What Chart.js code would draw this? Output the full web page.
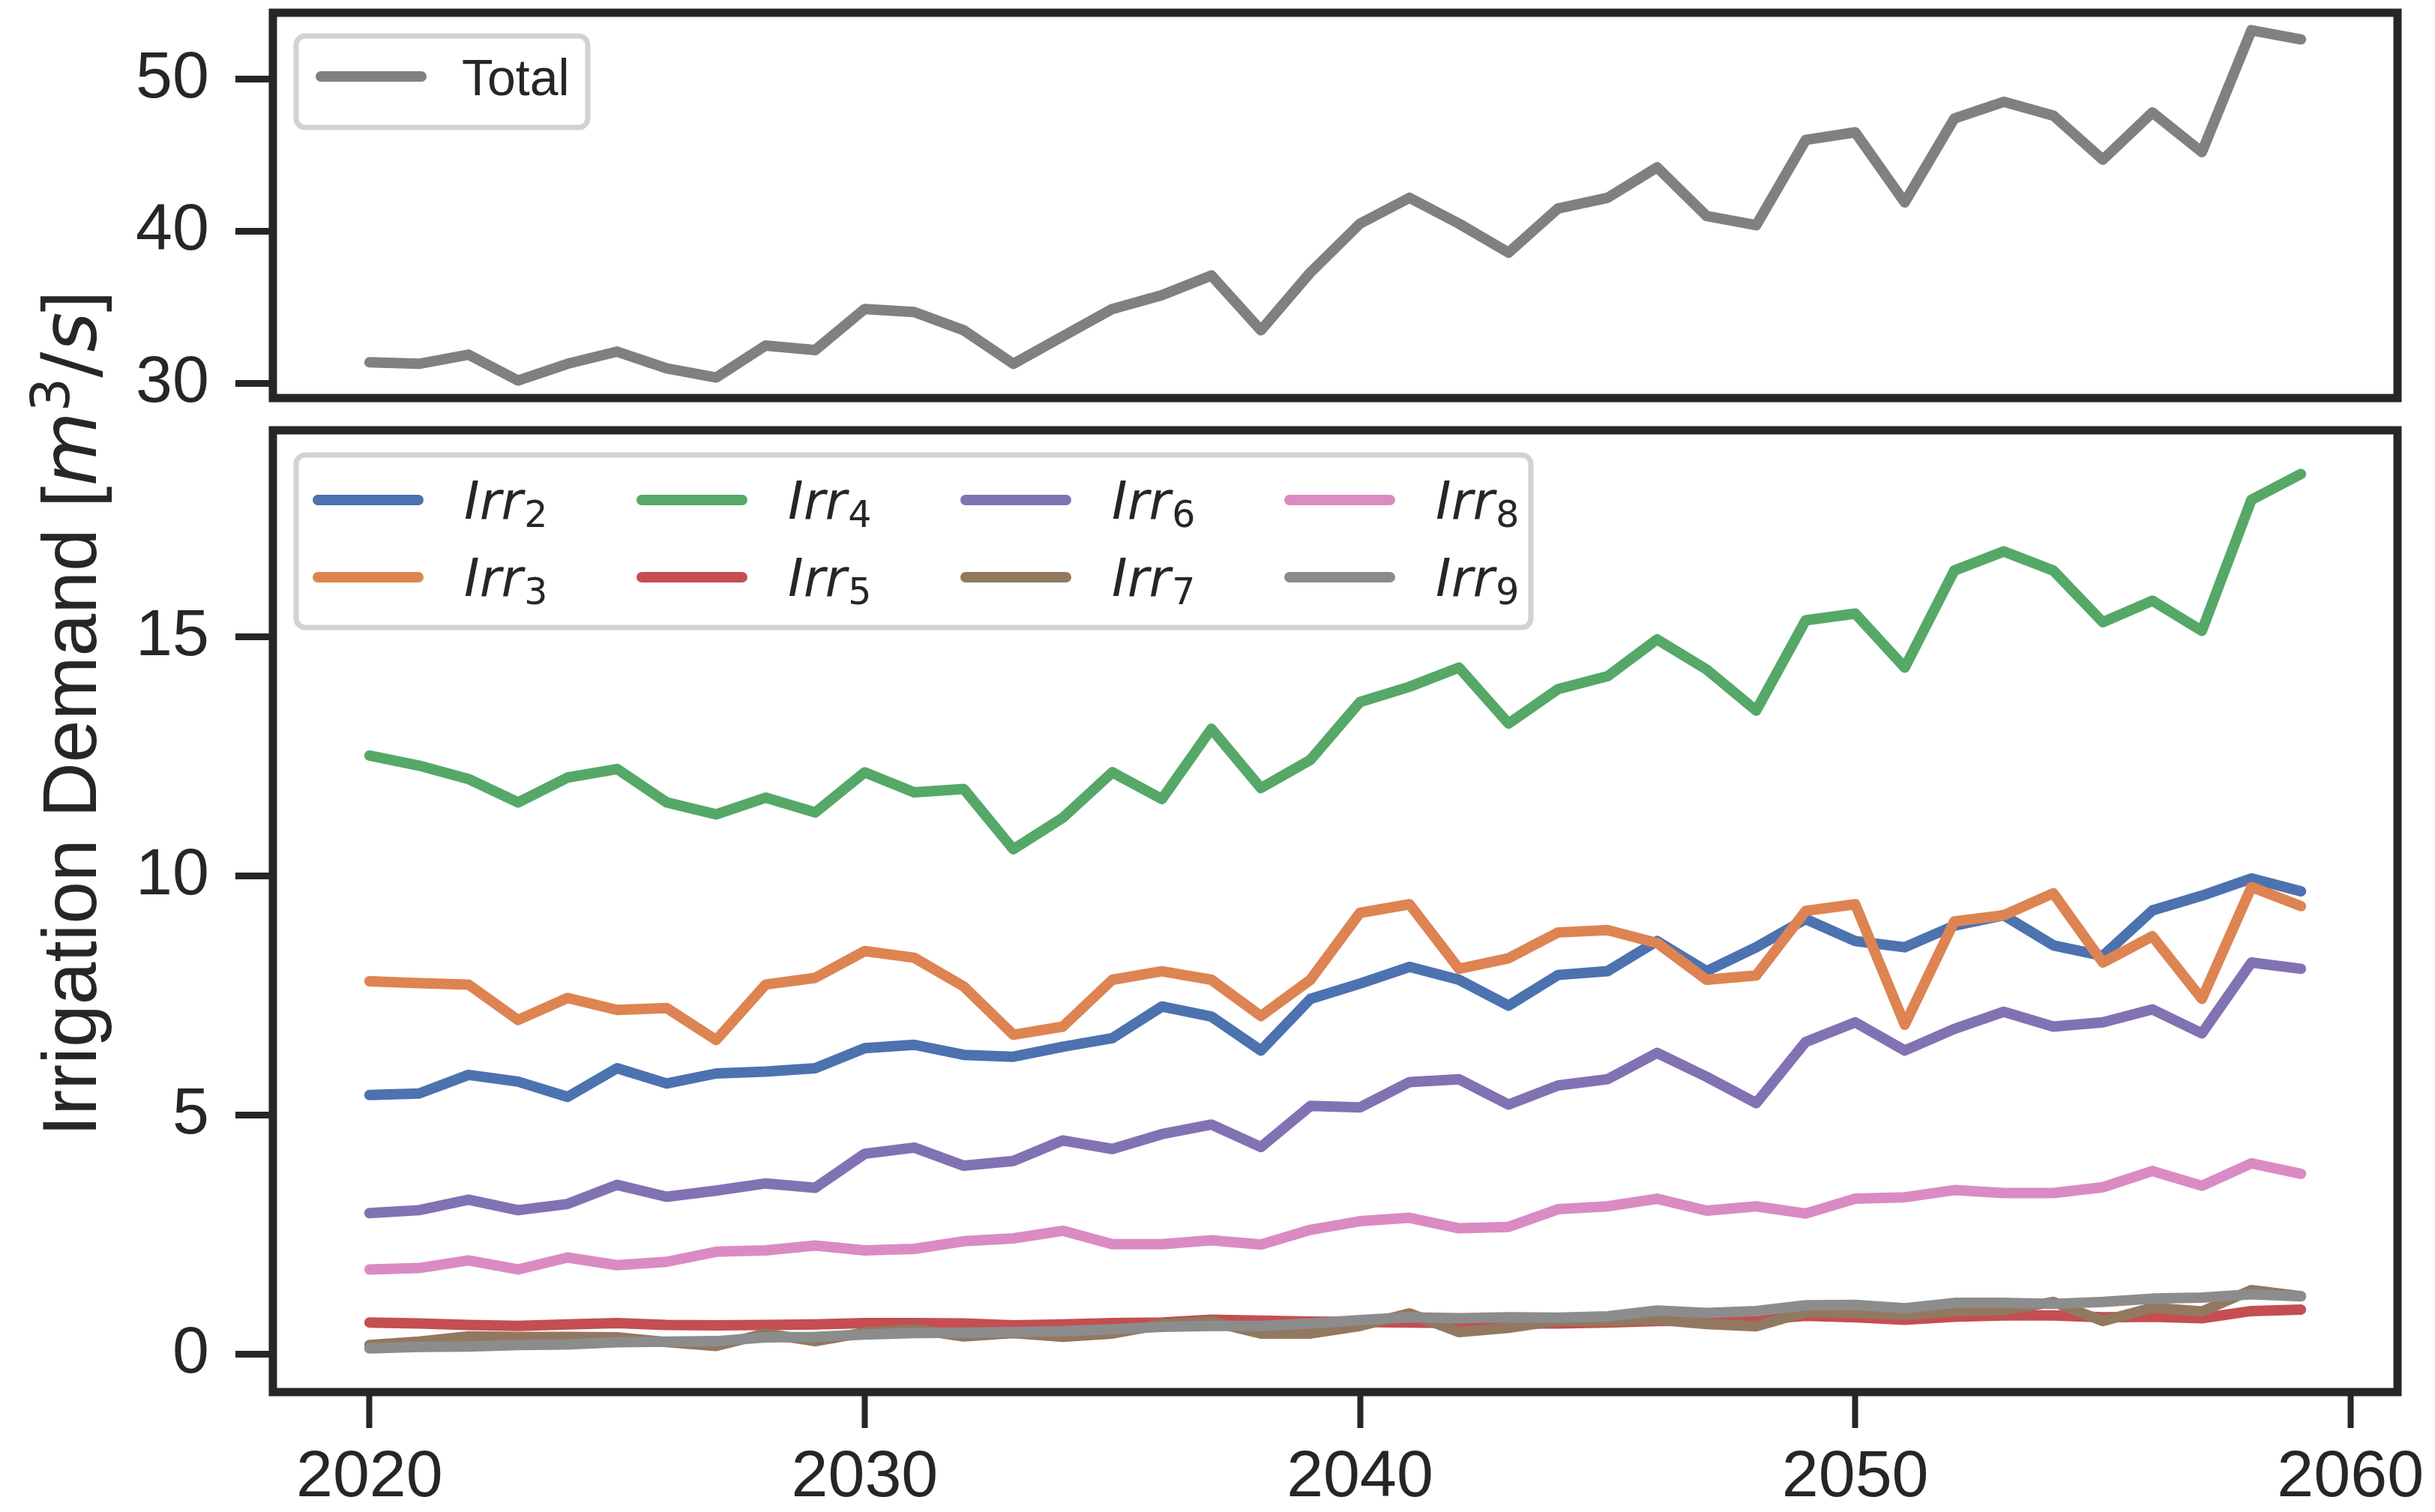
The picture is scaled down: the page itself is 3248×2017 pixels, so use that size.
<!DOCTYPE html>
<html lang="en">
<head>
<meta charset="UTF-8">
<title>Irrigation Demand</title>
<script src="https://cdn.jsdelivr.net/npm/chart.js@4.4.1/dist/chart.umd.min.js"></script>
<style>
  body { margin: 0; background: #fff; }
  #wrap { position: relative; width: 3248px; height: 2017px; }
  #wrap canvas { position: absolute; left: 0; }
  #top { top: 0; }
  #bottom { top: 560px; }
  #ylabel {
    position: absolute; left: 93px; top: 952px;
    transform: translate(-50%, -50%) rotate(-90deg);
    font: 102px "Liberation Sans", Arial, sans-serif;
    color: #262626; white-space: nowrap; line-height: 1;
  }
  #ylabel .mt { font-family: "DejaVu Sans", sans-serif; }
  #ylabel sup { font-size: 0.7em; vertical-align: 0.5em; line-height: 0; }
</style>
</head>
<body>
<div id="wrap">
  <canvas id="top" width="3248" height="560"></canvas>
  <canvas id="bottom" width="3248" height="1457"></canvas>
  <div id="ylabel">Irrigation Demand [<span class="mt"><i>m</i><sup>3</sup>/<i>s</i></span>]</div>
</div>
<script>
// yearly irrigation demand, m3/s
const years = Array.from({ length: 40 }, (_, i) => 2020 + i);

const total = [31.4, 31.3, 31.9, 30.2, 31.3, 32.1, 31.0, 30.4, 32.5, 32.2,
               34.9, 34.7, 33.5, 31.3, 33.1, 34.9, 35.8, 37.1, 33.5, 37.3,
               40.5, 42.2, 40.5, 38.6, 41.5, 42.2, 44.2, 41.0, 40.4, 46.0,
               46.5, 41.9, 47.4, 48.5, 47.6, 44.7, 47.8, 45.2, 53.2, 52.6];

const irr2 = [5.42, 5.45, 5.84, 5.70, 5.38, 5.98, 5.66, 5.87, 5.91, 5.98,
              6.40, 6.47, 6.26, 6.22, 6.43, 6.61, 7.27, 7.06, 6.35, 7.43,
              7.75, 8.10, 7.83, 7.29, 7.93, 8.01, 8.64, 8.01, 8.51, 9.10,
              8.64, 8.51, 8.96, 9.18, 8.55, 8.33, 9.28, 9.59, 9.95, 9.68];
const irr3 = [7.80, 7.76, 7.73, 6.99, 7.45, 7.20, 7.24, 6.57, 7.73, 7.87,
              8.43, 8.29, 7.69, 6.68, 6.85, 7.83, 8.01, 7.83, 7.07, 7.83,
              9.23, 9.41, 8.06, 8.28, 8.82, 8.87, 8.60, 7.83, 7.92, 9.27,
              9.41, 6.89, 9.05, 9.18, 9.64, 8.19, 8.74, 7.43, 9.77, 9.37];
const irr4 = [12.52, 12.31, 12.03, 11.54, 12.06, 12.24, 11.54, 11.29, 11.64, 11.33,
              12.17, 11.75, 11.82, 10.56, 11.22, 12.17, 11.61, 13.08, 11.84, 12.43,
              13.64, 13.96, 14.36, 13.19, 13.91, 14.18, 14.95, 14.32, 13.46, 15.35,
              15.49, 14.36, 16.39, 16.79, 16.39, 15.31, 15.76, 15.13, 17.87, 18.41];
const irr5 = [0.66, 0.64, 0.61, 0.59, 0.62, 0.65, 0.61, 0.60, 0.61, 0.62,
              0.65, 0.65, 0.64, 0.60, 0.62, 0.65, 0.66, 0.72, 0.70, 0.68,
              0.67, 0.66, 0.65, 0.64, 0.64, 0.66, 0.69, 0.70, 0.72, 0.80,
              0.77, 0.72, 0.78, 0.81, 0.81, 0.77, 0.78, 0.75, 0.90, 0.93];
const irr6 = [2.95, 3.01, 3.23, 3.01, 3.14, 3.54, 3.29, 3.42, 3.57, 3.48,
              4.19, 4.32, 3.94, 4.04, 4.47, 4.29, 4.60, 4.80, 4.33, 5.19,
              5.16, 5.69, 5.75, 5.22, 5.62, 5.75, 6.30, 5.80, 5.25, 6.53,
              6.94, 6.35, 6.80, 7.16, 6.85, 6.94, 7.21, 6.71, 8.19, 8.06];
const irr7 = [0.19, 0.26, 0.37, 0.36, 0.36, 0.35, 0.25, 0.17, 0.43, 0.27,
              0.45, 0.52, 0.37, 0.44, 0.36, 0.43, 0.62, 0.68, 0.43, 0.43,
              0.59, 0.85, 0.46, 0.55, 0.70, 0.69, 0.72, 0.63, 0.58, 0.88,
              0.86, 0.82, 0.90, 0.92, 1.09, 0.69, 0.97, 0.89, 1.34, 1.21];
const irr8 = [1.77, 1.80, 1.96, 1.77, 2.02, 1.86, 1.93, 2.14, 2.17, 2.27,
              2.17, 2.20, 2.36, 2.42, 2.58, 2.30, 2.30, 2.38, 2.29, 2.60,
              2.78, 2.85, 2.63, 2.66, 3.03, 3.09, 3.25, 3.00, 3.09, 2.94,
              3.25, 3.28, 3.43, 3.37, 3.37, 3.49, 3.83, 3.52, 3.99, 3.77];
const irr9 = [0.12, 0.15, 0.16, 0.19, 0.20, 0.25, 0.26, 0.27, 0.35, 0.36,
              0.41, 0.44, 0.45, 0.46, 0.48, 0.52, 0.57, 0.59, 0.59, 0.64,
              0.71, 0.77, 0.75, 0.77, 0.76, 0.79, 0.91, 0.86, 0.90, 1.02,
              1.03, 0.96, 1.07, 1.07, 1.05, 1.09, 1.16, 1.18, 1.25, 1.21];

const irrIds = ['2', '3', '4', '5', '6', '7', '8', '9'];
const irrSeries = [irr2, irr3, irr4, irr5, irr6, irr7, irr8, irr9];

const xTicks = [2020, 2030, 2040, 2050, 2060];
const yTicksTop = [30, 40, 50];
const yTicksBottom = [0, 5, 10, 15];

const palette = ['#4c72b0', '#dd8452', '#55a868', '#c44e52', '#8172b3', '#937860', '#da8bc3', '#8c8c8c'];
const totalColor = '#808080';
const ink = '#262626';
const tickFont = { family: '"Liberation Sans", Arial, sans-serif', size: 88 };
const lineWidth = 14;

// matplotlib-style 5% margins around the data
function padRange(lo, hi) {
  const m = (hi - lo) * 0.05;
  return [lo - m, hi + m];
}
const [xMin, xMax] = padRange(years[0], years[years.length - 1]);
const [topMin, topMax] = padRange(Math.min(...total), Math.max(...total));
const allIrr = irrSeries.flat();
const [botMin, botMax] = padRange(Math.min(...allIrr), Math.max(...allIrr));

function lineSet(label, values, color, order) {
  return {
    label,
    data: values.map((v, i) => ({ x: years[i], y: v })),
    borderColor: color,
    backgroundColor: color,
    borderWidth: lineWidth,
    pointRadius: 0,
    tension: 0,
    fill: false,
    borderJoinStyle: 'round',
    borderCapStyle: 'round',
    order
  };
}

// box around the plotting area, all four sides
const framePlugin = {
  id: 'frame',
  afterDatasetsDraw(chart) {
    const a = chart.chartArea, ctx = chart.ctx;
    ctx.save();
    ctx.strokeStyle = ink;
    ctx.lineWidth = 11;
    ctx.strokeRect(a.left, a.top, a.right - a.left, a.bottom - a.top);
    ctx.restore();
  }
};

function legendFrame(ctx, x, y, w, h) {
  ctx.save();
  ctx.beginPath();
  ctx.roundRect(x, y, w, h, 12);
  ctx.fillStyle = 'rgba(255,255,255,0.8)';
  ctx.fill();
  ctx.strokeStyle = '#d2d2d2';
  ctx.lineWidth = 7;
  ctx.stroke();
  ctx.restore();
}

function legendHandle(ctx, x, y, color) {
  ctx.save();
  ctx.strokeStyle = color;
  ctx.lineWidth = lineWidth;
  ctx.lineCap = 'round';
  ctx.beginPath();
  ctx.moveTo(x + 7, y);
  ctx.lineTo(x + 141, y);
  ctx.stroke();
  ctx.restore();
}

// legend drawn inside the upper-left corner of the panel
const totalLegend = {
  id: 'totalLegend',
  afterDraw(chart) {
    const a = chart.chartArea, ctx = chart.ctx;
    const x0 = a.left + 31, y0 = a.top + 31;
    legendFrame(ctx, x0, y0, 389, 122);
    const ds = chart.data.datasets[0];
    legendHandle(ctx, x0 + 26, y0 + 54, ds.borderColor);
    ctx.save();
    ctx.fillStyle = ink;
    ctx.font = '68px "Liberation Sans", Arial, sans-serif';
    ctx.textBaseline = 'alphabetic';
    ctx.fillText(ds.label, x0 + 221, y0 + 79);
    ctx.restore();
  }
};

const irrLegend = {
  id: 'irrLegend',
  afterDraw(chart) {
    const a = chart.chartArea, ctx = chart.ctx;
    const x0 = a.left + 31, y0 = a.top + 33;
    legendFrame(ctx, x0, y0, 1647, 230);
    chart.data.datasets.forEach((ds, i) => {
      const col = Math.floor(i / 2), row = i % 2;
      const lx = x0 + 22 + col * 432;
      const ly = y0 + 60 + row * 103;
      legendHandle(ctx, lx, ly, ds.borderColor);
      ctx.save();
      ctx.fillStyle = ink;
      ctx.textBaseline = 'alphabetic';
      ctx.font = 'italic 70px "DejaVu Sans", sans-serif';
      const tx = lx + 202;
      ctx.fillText('Irr', tx, ly + 25);
      const w = ctx.measureText('Irr').width;
      ctx.font = '49px "DejaVu Sans", sans-serif';
      ctx.fillText(ds.label.slice(3), tx + w + 2, ly + 36);
      ctx.restore();
    });
  }
};

// keep the plotting area fixed: no extra room reserved for edge labels
function noEdgePadding(scale) {
  scale.paddingTop = 0;
  scale.paddingBottom = 0;
  scale.paddingLeft = 0;
  scale.paddingRight = 0;
}

function yAxis(min, max, ticks) {
  return {
    type: 'linear',
    min, max,
    afterFit(scale) { scale.width = 364; noEdgePadding(scale); },
    afterBuildTicks(scale) { scale.ticks = ticks.map(v => ({ value: v })); },
    border: { display: false },
    grid: { drawOnChartArea: false, drawTicks: true, tickLength: 50, tickWidth: 9, tickColor: ink },
    ticks: { color: ink, font: tickFont, padding: 35 }
  };
}

const common = {
  responsive: false,
  animation: false,
  devicePixelRatio: 1,
  events: []
};

new Chart(document.getElementById('top'), {
  type: 'line',
  data: { datasets: [lineSet('Total', total, totalColor, 0)] },
  options: {
    ...common,
    layout: { padding: { top: 17, right: 50, bottom: 29, left: 0 } },
    plugins: { legend: { display: false }, tooltip: { enabled: false } },
    scales: {
      x: { type: 'linear', min: xMin, max: xMax, display: false },
      y: yAxis(topMin, topMax, yTicksTop)
    }
  },
  plugins: [framePlugin, totalLegend]
});

new Chart(document.getElementById('bottom'), {
  type: 'line',
  data: {
    datasets: irrSeries.map((vals, i) =>
      lineSet('Irr' + irrIds[i], vals, palette[i], irrSeries.length - i))
  },
  options: {
    ...common,
    layout: { padding: { top: 14, right: 50, bottom: 0, left: 0 } },
    plugins: { legend: { display: false }, tooltip: { enabled: false } },
    scales: {
      x: {
        type: 'linear',
        min: xMin, max: xMax,
        afterFit(scale) { scale.height = 160; noEdgePadding(scale); },
        afterBuildTicks(scale) { scale.ticks = xTicks.map(v => ({ value: v })); },
        border: { display: false },
        grid: { drawOnChartArea: false, drawTicks: true, tickLength: 48, tickWidth: 8, tickColor: ink },
        ticks: { color: ink, font: tickFont, padding: 14, maxRotation: 0, autoSkip: false,
                 callback: v => String(v) }
      },
      y: yAxis(botMin, botMax, yTicksBottom)
    }
  },
  plugins: [framePlugin, irrLegend]
});
</script>
</body>
</html>
